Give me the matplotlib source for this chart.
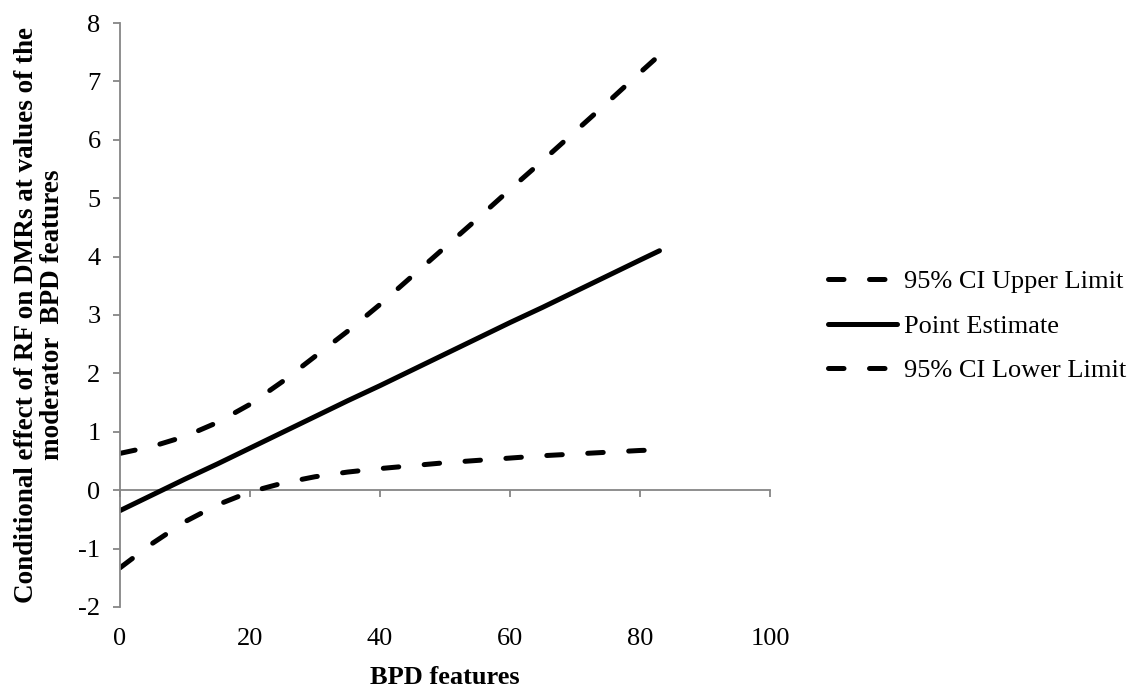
import numpy as np
import matplotlib.pyplot as plt

plt.rcParams['font.family'] = ['Liberation Serif', 'DejaVu Serif']
plt.rcParams['axes.unicode_minus'] = False

# --- DATA ---
bpd = [0, 5, 10, 15, 20, 25, 30, 35, 40, 45, 50, 55, 60, 65, 70, 75, 80, 83]
upper = [0.63, 0.75, 0.92, 1.16, 1.47, 1.86, 2.29, 2.72, 3.18, 3.67, 4.16, 4.65,
         5.15, 5.64, 6.14, 6.64, 7.15, 7.45]
estimate = [-0.35, -0.08, 0.19, 0.45, 0.72, 0.99, 1.26, 1.53, 1.79, 2.06, 2.33, 2.60,
            2.87, 3.13, 3.40, 3.67, 3.94, 4.10]
lower = [-1.33, -0.91, -0.54, -0.25, -0.03, 0.12, 0.23, 0.31, 0.37, 0.42, 0.47, 0.51,
         0.55, 0.59, 0.62, 0.65, 0.68, 0.69]

xticks = [0, 20, 40, 60, 80, 100]
yticks = [-2, -1, 0, 1, 2, 3, 4, 5, 6, 7, 8]

axis_grey = '#868686'
dash = (0, (3.1, 5.1))

fig = plt.figure(figsize=(11.35, 6.91), dpi=100)
ax = fig.add_axes([0.1057, 0.1216, 0.5727, 0.8451])

ax.plot(bpd, upper, color='black', lw=3.6, linestyle=dash, dash_capstyle='round',
        label='95% CI Upper Limit')
ax.plot(bpd, estimate, color='black', lw=3.6, solid_capstyle='round',
        label='Point Estimate')
ax.plot(bpd, lower, color='black', lw=3.6, linestyle=dash, dash_capstyle='round',
        label='95% CI Lower Limit')

ax.set_xlim(0, 100)
ax.set_ylim(-2, 8)
ax.set_yticks(yticks)
ax.set_xticks(xticks)

for s in ['top', 'right', 'bottom']:
    ax.spines[s].set_visible(False)
ax.spines['left'].set_color(axis_grey)
ax.spines['left'].set_linewidth(1.3)

ax.tick_params(axis='y', direction='out', length=5, width=1.3, color=axis_grey,
               labelsize=19, pad=9)
ax.tick_params(axis='x', length=0, labelsize=19, pad=15)

# horizontal axis line crossing at zero, with its tick marks
zero_pos = (0 - (-2)) / (8 - (-2))
sec = ax.secondary_xaxis(zero_pos)
sec.set_xticks(xticks)
sec.set_xticklabels([])
sec.spines['bottom'].set_color(axis_grey)
sec.spines['bottom'].set_linewidth(1.3)
sec.tick_params(axis='x', direction='out', length=5, width=1.3, color=axis_grey)

ax.set_xlabel('BPD features', fontsize=19, fontweight='bold', labelpad=12)
ax.set_ylabel('Conditional effect of RF on DMRs at values of the\nmoderator  BPD features',
              fontsize=19.5, fontweight='bold', labelpad=10, linespacing=1.05)

leg = ax.legend(loc='upper left', bbox_to_anchor=(0.7205, 0.625),
                bbox_transform=fig.transFigure, frameon=False, fontsize=19,
                handlelength=2.6, handletextpad=0.25, labelspacing=0.8,
                borderaxespad=0)

fig.savefig('out.png', dpi=100)
